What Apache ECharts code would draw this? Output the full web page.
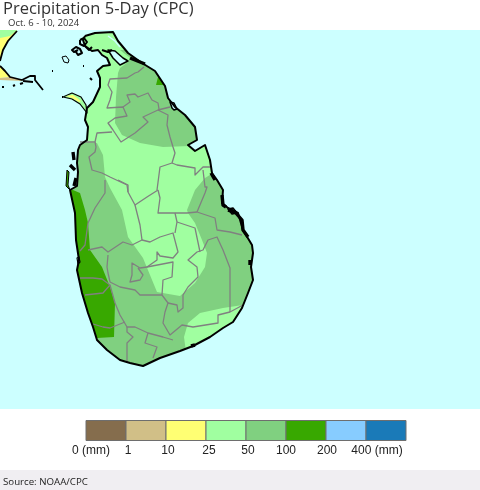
<!DOCTYPE html>
<html>
<head>
<meta charset="utf-8">
<title>Precipitation 5-Day (CPC)</title>
<script src="https://cdn.jsdelivr.net/npm/echarts@6/dist/echarts.min.js"></script>
<style>
html,body{margin:0;padding:0;background:#fff;}
#chart{width:480px;height:490px;}
</style>
</head>
<body>
<div id="chart"></div>
<script type="text/javascript">
var coast = [[85,36],[95,33],[113,32],[118,41],[128,53],[142,63],[155,71],[165,86],[168,98],[175,107],[185,115],[195,127],[197,140],
    [188,145],[195,151],[205,145],[210,160],[212,173],[217,180],[223,190],[222,203],[228,208],[238,213],[243,230],[252,245],[253,253],
    [251,267],[253,280],[248,293],[242,308],[233,322],[223,328],[210,337],[193,346],[180,351],[160,358],[143,366],[130,363],[120,360],
    [107,350],[97,340],[93,327],[88,313],[82,293],[77,270],[79,260],[76,240],[75,213],[70,190],[77,186],[78,172],[77,163],[78,150],
    [80,145],[87,140],[88,127],[85,120],[87,108],[93,102],[100,87],[100,78],[97,71],[103,66],[110,65],[107,58],[102,55],
    [98,50],[92,51],[85,46],[83,40]];
var lagoonJaffna = [[108,50],[113,58],[120,65],[128,61],[123,58],[115,51]];
var lagoonPuttalam = [[70,172],[76,166],[77,182],[74,188],[70,186]];
var lagoonVaharai = [[170,102],[174,103],[177,109],[174,110],[172,108]];
var lagoonBatticaloa = [[228,209],[233,208],[237,213],[232,214]];
var lagoonNegombo = [[77,258],[79,257],[80,262],[78,264]];
var zoneNorth = [[120,50],[130,58],[128,62],[120,68],[118,73],[116,97],[115,123],[122,135],[140,143],[163,147],[190,146],[230,140],[200,50]];
var zoneSouth = [[60,142],[80,142],[97,143],[103,155],[105,177],[110,188],[122,210],[128,237],[143,258],[157,292],[180,296],[195,283],
    [205,267],[207,253],[202,240],[195,223],[188,213],[187,210],[195,190],[205,178],[213,173],[270,170],[270,305],[243,305],[223,308],
    [200,313],[188,323],[184,337],[186,352],[186,385],[60,385]];
var zoneWest = [[40,190],[73,190],[80,193],[85,210],[88,223],[90,250],[102,267],[110,287],[115,303],[114,337],[97,338],[40,345]];
var zoneSpot = [[156,85],[158,77],[161,76],[170,85]];
var barrierIsland = [[67,170],[69,172],[68,185],[70,190],[66,186]];
var mannarCrescent = [[63,97],[72,93],[81,97],[86,105],[87,113],[80,104],[72,99]];
var mannarYellow = [[66,96],[73,95],[81,101],[79,102],[72,98]];
var ovalIsland = [[62,57],[66,56],[69,60],[68,63],[64,62]];
var indiaNorth = [[0,30],[17,30],[8,41],[3,50],[0,61]];
var indiaNorthGreen = [[0,30],[17,30],[10,36],[0,38]];
var indiaSouth = [[0,66],[5,71],[10,77],[0,78]];
var indiaSouthTan = [[0,78],[10,77],[22,80],[23,81],[0,80]];
var coastExtra = [
    [[0,61],[3,50],[8,41],[17,31]],
    [[0,66],[5,71],[10,77],[22,80],[30,76],[35,76],[35,80],[43,90]],
    [[23,81],[33,82]]
];
var thickCoast = [
    [[130,58],[145,64]],[[211,173],[215,180]],[[222,195],[223,205],[226,207]],[[228,210],[235,212],[242,220],[243,230],[248,237]],
    [[73,152],[74,160]],[[70,165],[75,170]],[[76,178],[74,186]],[[191,346],[195,345]],[[250,260],[250,265]]
];
var islets = [
    [[80,40],[84,38],[87,42],[84,46],[80,44],[80,40]],
    [[78,50],[74,52],[72,50],[76,47],[80,49],[82,53],[78,55],[76,52]],
    [[85,46],[89,50],[92,47]],
    [[102,50],[108,52],[112,50]],
    [[90,78],[92,80]],[[52,71],[53,71]],[[83,66],[84,66]],[[62,97],[63,97]],
    [[13,86],[15,85]],[[2,87],[4,87]],[[20,84],[23,83]]
];
var borders = [
    [[144,67],[138,72],[135,73],[127,78],[110,79],[108,85],[112,92],[110,100],[107,108],[123,107],[127,116],[115,118],[108,123],[113,130],[121,142],[135,133],[148,122],[143,117],[158,110],[170,107]],
    [[123,107],[130,102],[127,95],[135,94],[138,97],[148,93],[152,100],[158,103],[159,109]],
    [[158,110],[168,115],[167,125],[170,137],[173,147],[175,153],[172,163],[160,167],[157,190]],
    [[172,163],[177,165],[195,168],[195,175],[203,167],[210,167]],
    [[203,170],[205,187],[207,187],[205,193],[197,212]],
    [[80,142],[95,142],[97,133],[112,132]],
    [[95,142],[96,147],[95,152],[89,157],[92,170],[102,173],[110,177],[127,185],[128,192]],
    [[105,180],[105,193],[95,208],[88,223],[85,245],[80,251]],
    [[88,250],[102,247],[108,252],[123,242],[132,245],[142,240],[150,242],[160,237],[173,233],[178,252],[173,258],[160,256],[157,252],[157,260],[147,267],[140,268],[132,263],[132,275],[130,282],[140,280],[143,275],[138,268]],
    [[118,180],[128,185],[128,192],[135,205],[147,197],[158,190]],
    [[135,205],[140,225],[142,240]],
    [[158,190],[160,198],[158,213],[175,213],[187,213],[197,212]],
    [[175,213],[177,222],[175,233]],
    [[147,267],[173,262],[172,277],[163,280],[162,295],[140,295],[135,290],[120,287],[110,282],[108,273],[107,267],[108,255]],
    [[80,278],[93,278],[102,279],[110,285],[103,293],[85,295]],
    [[115,303],[120,315],[127,327],[135,327],[148,333],[163,337],[173,340]],
    [[110,285],[115,303]],
    [[93,324],[103,327],[110,328],[125,322]],
    [[127,327],[127,332],[133,337],[127,343],[127,362]],
    [[148,333],[145,343],[157,347],[153,358]],
    [[162,295],[168,303],[165,312],[163,323],[170,335],[182,325],[193,327],[218,323],[218,315],[230,312],[243,305]],
    [[168,303],[177,305],[178,312],[183,308],[183,295],[188,287],[198,277],[197,267],[188,260],[197,252],[203,250],[208,240],[217,237],[223,250],[230,268],[230,312]],
    [[197,212],[215,218],[217,230],[230,232],[242,235]],
    [[177,222],[195,228],[200,252]]
];
var legendLabels = ['0 (mm)','1','10','25','50','100','200','400 (mm)'];
var legendColors = ['#856d4d','#d1bf87','#ffff73','#a0ffa0','#80d080','#38a800','#87ccff','#1a7ab8'];

var OCEAN = '#ccffff', LAND = '#a0ffa0', MID = '#80d080', DARK = '#38a800', YELLOW = '#ffff73', TAN = '#d1bf87';
var legendNudge = [5,2,2,3,2,0,1,11];

// one outline as one custom series, in the map's axes
function shape(points, fill, stroke, width, closed) {
    return {
        type: 'custom', coordinateSystem: 'cartesian2d', xAxisIndex: 0, yAxisIndex: 0,
        silent: true, animation: false, clip: true, data: [0],
        renderItem: function (params, api) {
            var pts = points.map(function (p) { return api.coord(p); });
            return {
                type: closed === false ? 'polyline' : 'polygon',
                shape: { points: pts },
                style: { fill: closed === false ? 'none' : (fill || 'none'), stroke: stroke || 'none', lineWidth: width || 0, lineJoin: 'round' }
            };
        }
    };
}
function lines(list, color, width) {
    return list.map(function (l) { return shape(l, null, color, width, false); });
}

// ocean with an island-shaped hole, keeps the rain zones on land
var oceanMask = [[-5,25],[-5,415],[485,415],[485,25],[85,25]].concat(coast).concat([[85,36],[85,25]]);

var series = [];
series.push(shape(coast, LAND));
series.push(shape(zoneNorth, MID));
series.push(shape(zoneSouth, MID));
series.push(shape(zoneWest, DARK));
series.push(shape(zoneSpot, DARK));
series.push(shape(oceanMask, OCEAN));
series.push(shape(lagoonJaffna, OCEAN, '#000', 1.5));
series.push(shape(lagoonPuttalam, OCEAN));
series.push(shape(lagoonVaharai, OCEAN, '#000', 1.5));
series.push(shape(lagoonBatticaloa, OCEAN, '#000', 1.5));
series.push(shape(lagoonNegombo, OCEAN, '#000', 1.2));
series.push(shape(barrierIsland, DARK, '#000', 1));
series.push(shape([[108,36],[115,41],[120,47]], null, OCEAN, 1.5, false));
series.push(shape(mannarCrescent, LAND, '#000', 1.2));
series.push(shape(mannarYellow, YELLOW));
series.push(shape(ovalIsland, OCEAN, '#000', 1));
series.push(shape(indiaNorth, YELLOW));
series.push(shape(indiaNorthGreen, LAND));
series.push(shape(indiaSouth, YELLOW));
series.push(shape(indiaSouthTan, TAN));
series = series.concat(lines(borders, '#808080', 1.3));
series.push(shape(coast.concat([coast[0]]), null, '#000', 2, false));
series = series.concat(lines(coastExtra, '#000', 1.8));
series = series.concat(lines(thickCoast, '#000', 3.4));
series = series.concat(lines(islets, '#000', 2));

// colour key
series.push({
    type: 'custom', coordinateSystem: 'cartesian2d', xAxisIndex: 1, yAxisIndex: 1,
    silent: true, animation: false,
    data: legendColors.map(function (c, i) { return [i, i + 1, c]; }),
    renderItem: function (params, api) {
        var a = api.coord([api.value(0), 1]);
        var b = api.coord([api.value(1), 0]);
        return {
            type: 'rect',
            shape: { x: a[0], y: a[1], width: b[0] - a[0], height: b[1] - a[1] },
            style: { fill: legendColors[params.dataIndex], stroke: '#6e6e6e', lineWidth: 1 }
        };
    }
});
series.push({
    type: 'custom', coordinateSystem: 'cartesian2d', xAxisIndex: 1, yAxisIndex: 1,
    silent: true, animation: false, clip: false,
    data: legendLabels.map(function (t, i) { return [i, 0]; }),
    renderItem: function (params, api) {
        var p = api.coord([api.value(0), 0]);
        return {
            type: 'text',
            style: {
                text: legendLabels[params.dataIndex],
                x: p[0] + legendNudge[params.dataIndex], y: p[1] + 10,
                fill: '#222', font: '12px "Liberation Sans"', align: 'center', verticalAlign: 'middle'
            }
        };
    }
});

var chart = echarts.init(document.getElementById('chart'), null, { renderer: 'canvas' });
chart.setOption({
    backgroundColor: '#fff',
    animation: false,
    title: [
        { text: 'Precipitation 5-Day (CPC)', left: 3, top: 1, padding: 0, textStyle: { fontFamily: 'Open Sans', fontSize: 16.5, fontWeight: 'normal', color: '#333' } },
        { text: 'Oct. 6 - 10, 2024', left: 8, top: 18, padding: 0, textStyle: { fontFamily: 'Open Sans', fontSize: 9.5, fontWeight: 'normal', color: '#333' } },
        { text: 'Source: NOAA/CPC', left: 3, top: 477, padding: 0, textStyle: { fontFamily: 'Open Sans', fontSize: 9.7, fontWeight: 'normal', color: '#222' } }
    ],
    graphic: [{ type: 'rect', z: -1, shape: { x: 0, y: 470, width: 480, height: 20 }, style: { fill: '#f0eef2' } }],
    grid: [
        { left: 0, top: 30, width: 480, height: 379, show: true, backgroundColor: OCEAN, borderWidth: 0 },
        { left: 86, top: 420.5, width: 320, height: 20, show: false }
    ],
    xAxis: [
        { gridIndex: 0, type: 'value', min: 0, max: 480, show: false },
        { gridIndex: 1, type: 'value', min: 0, max: 8, show: false }
    ],
    yAxis: [
        { gridIndex: 0, type: 'value', min: 30, max: 409, inverse: true, show: false },
        { gridIndex: 1, type: 'value', min: 0, max: 1, show: false }
    ],
    series: series
});
</script>
</body>
</html>
